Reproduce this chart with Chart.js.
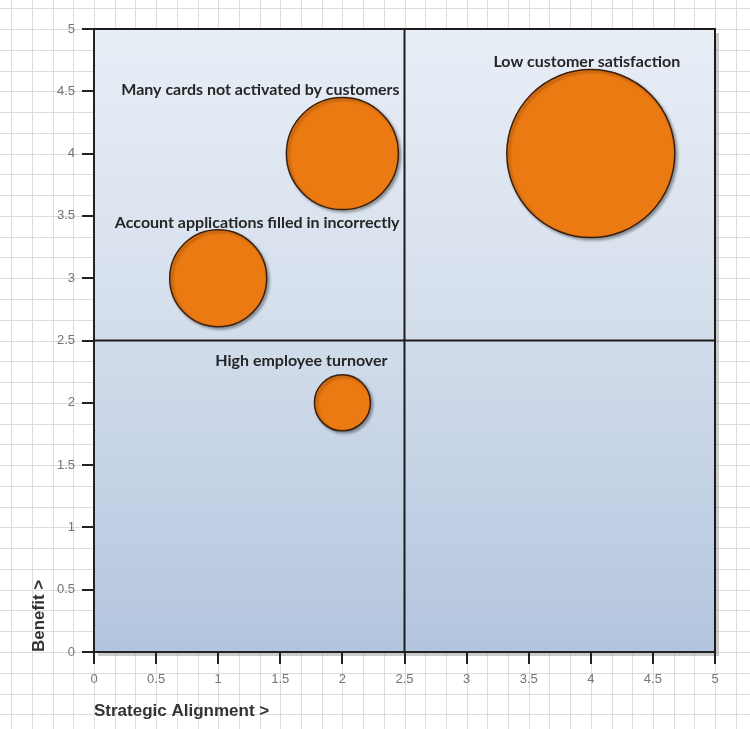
<!DOCTYPE html>
<html>
<head>
<meta charset="utf-8">
<script src="https://cdn.jsdelivr.net/npm/chart.js@4/dist/chart.umd.min.js"></script>
<style>
  html, body { margin: 0; padding: 0; background: #ffffff; }
  #wrap { width: 750px; height: 729px; }
</style>
</head>
<body>
<div id="wrap"><canvas id="c" width="750" height="729"></canvas></div>
<script>
// Issues plotted by strategic alignment (x) and benefit (y); bubble size = impact
const issues = [
  'Low customer satisfaction',
  'Many cards not activated by customers',
  'Account applications filled in incorrectly',
  'High employee turnover'
];
const alignment = [4, 2, 1, 2];
const benefit = [4, 4, 3, 2];
const impact = [9, 4, 3, 1];
const axisTicks = [0, 0.5, 1, 1.5, 2, 2.5, 3, 3.5, 4, 4.5, 5];

// label placement relative to each bubble centre (pixels)
const labelShift = [[-4, -92], [-82, -64], [39, -55], [-41, -42]];
const bubbleScale = 28;   // px radius per sqrt(impact)
const paperStep = 1 / 6;  // graph-paper spacing in axis units

const points = alignment.map((x, i) => ({ x: x, y: benefit[i], size: impact[i] }));

const backdrop = {
  id: 'backdrop',
  beforeDraw(chart) {
    const { ctx, chartArea: a, scales: { x, y } } = chart;
    ctx.save();
    ctx.fillStyle = '#ffffff';
    ctx.fillRect(0, 0, chart.width, chart.height);
    // graph paper across the whole canvas
    ctx.strokeStyle = '#dcdcdc';
    ctx.lineWidth = 1;
    for (let k = -30; k <= 40; k++) {
      const px = Math.round(x.getPixelForValue(k * paperStep)) + 0.5;
      if (px >= 0 && px <= chart.width) {
        ctx.beginPath(); ctx.moveTo(px, 0); ctx.lineTo(px, chart.height); ctx.stroke();
      }
      const py = Math.round(y.getPixelForValue(k * paperStep)) + 0.5;
      if (py >= 0 && py <= chart.height) {
        ctx.beginPath(); ctx.moveTo(0, py); ctx.lineTo(chart.width, py); ctx.stroke();
      }
    }
    // drop shadow of the plot panel
    ctx.fillStyle = 'rgba(140,140,140,0.45)';
    ctx.fillRect(a.left + 4, a.top + 4, a.right - a.left, a.bottom - a.top);
    // panel fill
    const g = ctx.createLinearGradient(0, a.top, 0, a.bottom);
    g.addColorStop(0, '#e8eef6');
    g.addColorStop(0.45, '#d5dfec');
    g.addColorStop(1, '#b3c5de');
    ctx.fillStyle = g;
    ctx.fillRect(a.left, a.top, a.right - a.left, a.bottom - a.top);
    ctx.restore();
  },
  beforeDatasetsDraw(chart) {
    const { ctx, chartArea: a, scales: { x, y } } = chart;
    ctx.save();
    ctx.strokeStyle = '#1c1c1c';
    ctx.lineWidth = 2;
    const mx = x.getPixelForValue(2.5);
    const my = y.getPixelForValue(2.5);
    ctx.beginPath();
    ctx.moveTo(mx, a.top); ctx.lineTo(mx, a.bottom);
    ctx.moveTo(a.left, my); ctx.lineTo(a.right, my);
    // top and right edges of the panel
    ctx.moveTo(a.left, a.top); ctx.lineTo(a.right, a.top); ctx.lineTo(a.right, a.bottom);
    ctx.stroke();
    ctx.restore();
  },
  beforeDatasetDraw(chart) {
    const ctx = chart.ctx;
    ctx.save();
    ctx.shadowColor = 'rgba(0,0,0,0.35)';
    ctx.shadowBlur = 3;
    ctx.shadowOffsetX = 2;
    ctx.shadowOffsetY = 2;
  },
  afterDatasetDraw(chart) {
    chart.ctx.restore();
  },
  afterDatasetsDraw(chart) {
    const { ctx } = chart;
    const meta = chart.getDatasetMeta(0);
    ctx.save();
    ctx.font = 'bold 16px Lato, "Open Sans", sans-serif';
    ctx.fillStyle = '#262626';
    ctx.textAlign = 'center';
    ctx.textBaseline = 'middle';
    meta.data.forEach((el, i) => {
      ctx.fillText(issues[i], el.x + labelShift[i][0], el.y + labelShift[i][1]);
    });
    ctx.restore();
  }
};

const tickFont = { family: '"Liberation Sans", Arial, sans-serif', size: 13 };
const titleFont = { family: '"Liberation Sans", Arial, sans-serif', size: 17, weight: 'bold' };

new Chart(document.getElementById('c'), {
  type: 'bubble',
  data: {
    datasets: [{
      label: 'Issues',
      data: points,
      backgroundColor: '#ec7a13',
      borderColor: '#3b1f0c',
      borderWidth: 1.5,
      radius: ctx => bubbleScale * Math.sqrt(ctx.raw.size),
      hoverRadius: 0,
      clip: false
    }]
  },
  options: {
    responsive: false,
    animation: false,
    events: [],
    layout: { autoPadding: false, padding: { top: 29, right: 35, left: 0, bottom: 0 } },
    plugins: { legend: { display: false }, tooltip: { enabled: false } },
    scales: {
      x: {
        type: 'linear',
        min: 0, max: 5,
        afterFit: s => { s.height = 77; },
        afterBuildTicks: s => { s.ticks = axisTicks.map(v => ({ value: v })); },
        grid: { drawOnChartArea: false, drawTicks: true, tickLength: 12, color: '#222', lineWidth: 2 },
        border: { display: true, color: '#222', width: 2 },
        ticks: { padding: 8, color: '#747474', font: tickFont, maxRotation: 0, callback: v => String(v) },
        title: {
          display: true, text: 'Strategic Alignment >', align: 'start',
          color: '#333', padding: { top: 0, bottom: 7 }, font: titleFont
        }
      },
      y: {
        type: 'linear',
        min: 0, max: 5,
        afterFit: s => { s.width = 94; },
        afterBuildTicks: s => { s.ticks = axisTicks.map(v => ({ value: v })); },
        grid: { drawOnChartArea: false, drawTicks: true, tickLength: 12, color: '#222', lineWidth: 2 },
        border: { display: true, color: '#222', width: 2 },
        ticks: { padding: 7, color: '#747474', font: tickFont, callback: v => String(v) },
        title: {
          display: true, text: 'Benefit >', align: 'start',
          color: '#333', padding: { top: 29, bottom: 0 }, font: titleFont
        }
      }
    }
  },
  plugins: [backdrop]
});
</script>
</body>
</html>
